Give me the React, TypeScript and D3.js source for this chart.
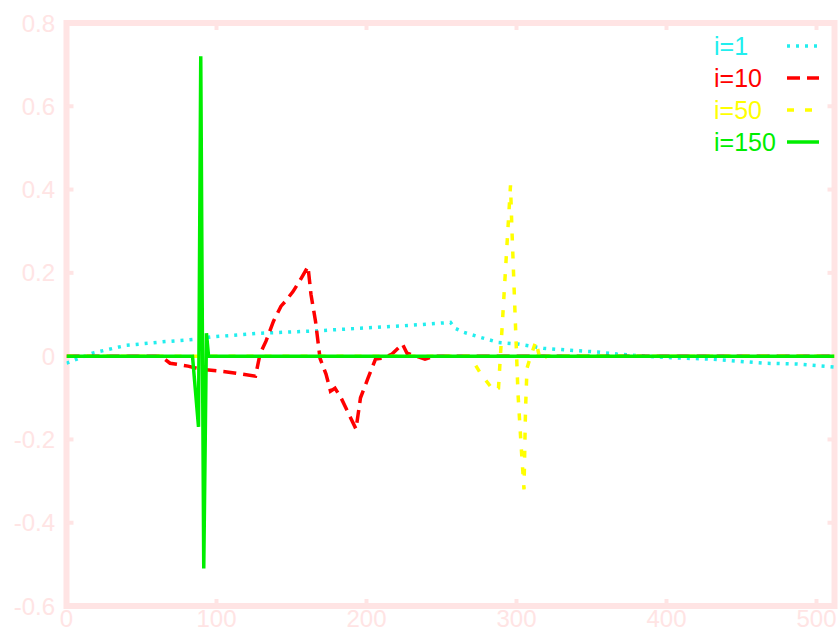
import React from "react";
import * as d3 from "d3";

const xTicks = [0, 100, 200, 300, 400, 500];
const yTicks = [-0.6, -0.4, -0.2, 0, 0.2, 0.4, 0.6, 0.8];
const yTickLabels = ["-0.6", "-0.4", "-0.2", "0", "0.2", "0.4", "0.6", "0.8"];

const cyanX = [0, 9, 18, 40, 63, 87, 96, 129, 163, 196, 229, 256, 259, 265, 276, 288, 301, 318, 336, 354, 367, 385, 411, 429, 465, 487, 512];
const cyanY = [-0.017, -0.004, 0.008, 0.026, 0.034, 0.041, 0.046, 0.055, 0.06, 0.067, 0.074, 0.081, 0.067, 0.057, 0.045, 0.033, 0.029, 0.019, 0.014, 0.01, 0.005, 0.0, -0.005, -0.007, -0.017, -0.019, -0.026];

const redX = [0, 63, 69, 81, 89, 107, 126, 129, 133, 138, 143, 146, 151, 156, 161, 163, 166, 169, 173, 176, 179, 183, 187, 193, 196, 201, 206, 211, 217, 224, 227, 239, 245, 512];
const redY = [0, 0, -0.017, -0.024, -0.031, -0.038, -0.048, 0.005, 0.036, 0.084, 0.12, 0.132, 0.155, 0.184, 0.215, 0.148, 0.084, -0.005, -0.043, -0.084, -0.077, -0.1, -0.13, -0.175, -0.1, -0.053, -0.007, -0.005, 0.005, 0.029, 0.007, -0.007, 0, 0];

const yellowX = [0, 268, 271, 276, 285, 288, 296, 297, 301, 303, 305, 306, 307, 309, 313, 314, 316, 320, 512];
const yellowY = [0, 0, -0.012, -0.041, -0.084, -0.077, 0.41, 0.3, -0.09, -0.21, -0.32, -0.13, -0.029, -0.005, 0.036, 0.019, -0.012, 0, 0];

const greenX = [0, 84, 88, 89.5, 91.5, 93.3, 94.7, 512];
const greenY = [0, 0, -0.17, 0.72, -0.51, 0.055, 0, 0];

const seriesNames = ["i=1", "i=10", "i=50", "i=150"];
const seriesColors = ["#22eeee", "#ff0000", "#ffff00", "#00ee00"];
const seriesDash = ["3,6", "13,7", "7,11", "none"];

const W = 839;
const H = 630;
const frameColor = "#ffe4e4";
const font = "'Liberation Sans', Arial, Helvetica, sans-serif";

export default function App() {
  const x = d3.scaleLinear().domain([0, 512]).range([66.5, 834.5]);
  const y = d3.scaleLinear().domain([-0.6, 0.8]).range([606, 23]);
  const line = d3
    .line<[number, number]>()
    .x((d) => x(d[0]))
    .y((d) => y(d[1]));
  const toPts = (xs: number[], ys: number[]) => xs.map((v, i) => [v, ys[i]] as [number, number]);
  const data = [toPts(cyanX, cyanY), toPts(redX, redY), toPts(yellowX, yellowY), toPts(greenX, greenY)];

  const [x0, x1] = x.range();
  const [y0, y1] = y.range();

  return (
    <div style={{ position: "fixed", left: 0, top: 0 }}>
      <svg width={W} height={H} style={{ display: "block", background: "#fff" }}>
        <defs>
          <clipPath id="plot">
            <rect x={x0} y={y1} width={x1 - x0} height={y0 - y1} />
          </clipPath>
        </defs>
        {/* frame */}
        <rect x={x0} y={y1} width={x1 - x0} height={y0 - y1} fill="none" stroke={frameColor} strokeWidth={6} />
        {/* ticks */}
        {yTicks.map((t) => (
          <g key={"yt" + t}>
            <line x1={x0} x2={x0 + 7} y1={y(t)} y2={y(t)} stroke={frameColor} strokeWidth={4} />
            <line x1={x1} x2={x1 - 7} y1={y(t)} y2={y(t)} stroke={frameColor} strokeWidth={4} />
          </g>
        ))}
        {xTicks.map((t) => (
          <g key={"xt" + t}>
            <line x1={x(t)} x2={x(t)} y1={y0} y2={y0 - 7} stroke={frameColor} strokeWidth={4} />
            <line x1={x(t)} x2={x(t)} y1={y1} y2={y1 + 7} stroke={frameColor} strokeWidth={4} />
          </g>
        ))}
        {/* tick labels */}
        {yTicks.map((t, i) => (
          <text key={"yl" + t} x={55} y={y(t)} dy="0.36em" textAnchor="end" fill={frameColor} fontFamily={font} fontSize={24}>
            {yTickLabels[i]}
          </text>
        ))}
        {xTicks.map((t) => (
          <text key={"xl" + t} x={x(t)} y={627} textAnchor="middle" fill={frameColor} fontFamily={font} fontSize={24}>
            {t}
          </text>
        ))}
        {/* series */}
        <g clipPath="url(#plot)">
          {data.map((pts, i) => (
            <path
              key={"s" + i}
              d={line(pts) || ""}
              fill="none"
              stroke={seriesColors[i]}
              strokeWidth={3.5}
              strokeDasharray={seriesDash[i]}
              strokeLinejoin="miter"
            />
          ))}
        </g>
        {/* legend */}
        {seriesNames.map((n, i) => {
          const cy = 46 + i * 32;
          return (
            <g key={"lg" + i}>
              <text x={714} y={cy} dy="0.36em" fill={seriesColors[i]} fontFamily={font} fontSize={25}>
                {n}
              </text>
              <line x1={787} x2={819} y1={cy} y2={cy} stroke={seriesColors[i]} strokeWidth={3.5} strokeDasharray={seriesDash[i]} />
            </g>
          );
        })}
      </svg>
    </div>
  );
}
